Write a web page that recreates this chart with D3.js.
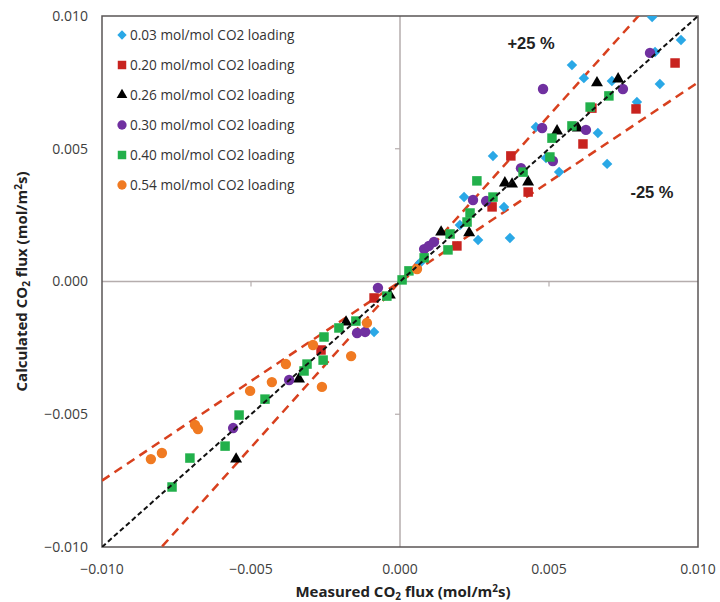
<!DOCTYPE html>
<html><head><meta charset="utf-8">
<script src="https://cdn.jsdelivr.net/npm/d3@7"></script>
<style>html,body{margin:0;padding:0;background:#fff;}</style>
</head><body>
<svg id="chart" width="720" height="602"></svg>
<script>
// values in units of 0.001 mol/m2s : [measured, calculated]
const series = ["0.03 mol/mol CO2 loading","0.20 mol/mol CO2 loading","0.26 mol/mol CO2 loading","0.30 mol/mol CO2 loading","0.40 mol/mol CO2 loading","0.54 mol/mol CO2 loading"];
const s003 = [[8.46,9.96],[9.43,9.10],[8.56,8.64],[5.77,8.15],[6.17,7.66],[7.11,7.55],[8.72,7.44],[7.95,6.76],[4.56,5.82],[6.64,5.59],[3.12,4.73],[4.90,4.65],[6.95,4.43],[5.34,4.12],[2.15,3.18],[3.49,2.81],[2.01,2.13],[2.62,1.56],[3.69,1.64],[0.67,0.70],[-0.87,-1.90]];
const s020 = [[9.23,8.23],[7.92,6.50],[6.44,6.53],[6.14,5.18],[3.72,4.73],[4.30,3.37],[3.09,2.81],[1.91,1.34],[-0.87,-0.62],[-2.65,-2.58]];
const s026 = [[6.61,7.48],[7.32,7.63],[5.27,5.67],[5.97,5.78],[3.52,3.71],[3.76,3.67],[4.30,3.75],[1.38,1.86],[2.32,1.83],[-0.34,-0.51],[-1.81,-1.53],[-3.39,-3.67],[-5.50,-6.69]];
const s030 = [[8.39,8.61],[4.80,7.25],[7.48,7.25],[4.77,5.78],[6.24,5.71],[4.06,4.27],[5.13,4.54],[2.45,3.07],[2.89,3.03],[0.81,1.22],[0.97,1.34],[1.14,1.49],[-0.74,-0.24],[-1.44,-1.94],[-1.17,-1.90],[-3.72,-3.71],[-5.60,-5.52]];
const s040 = [[7.01,6.99],[6.38,6.57],[5.77,5.86],[5.10,5.40],[5.03,4.69],[4.13,4.12],[2.58,3.79],[3.12,3.18],[2.35,2.58],[2.25,2.24],[1.68,1.79],[1.61,1.19],[0.81,0.89],[0.30,0.40],[0.07,0.06],[-0.44,-0.55],[-1.48,-1.49],[-2.05,-1.75],[-2.55,-2.09],[-2.58,-2.96],[-3.12,-3.11],[-3.22,-3.37],[-4.53,-4.43],[-5.40,-5.03],[-5.87,-6.20],[-7.05,-6.65],[-7.65,-7.74]];
const s054 = [[0.57,0.47],[-1.11,-1.56],[-2.92,-2.39],[-1.64,-2.81],[-3.83,-3.11],[-2.62,-3.97],[-4.30,-3.79],[-5.03,-4.12],[-6.88,-5.40],[-6.78,-5.56],[-7.99,-6.46],[-8.36,-6.69]];
const allSeries = [s003, s020, s026, s030, s040, s054];
const tickValues = [-0.010, -0.005, 0.000, 0.005, 0.010];
const bandFactors = [1.25, 0.75];
const bandLabels = ["+25 %", "-25 %"];

const colors = ["#2aa8e6","#c8231f","#000000","#7030a0","#22b04b","#f07a22"];
const symbols = [d3.symbolDiamond2, d3.symbolSquare, d3.symbolTriangle, d3.symbolCircle, d3.symbolSquare, d3.symbolCircle];
const sizes = [70, 90, 62, 85, 90, 85];

const svg = d3.select("#chart");
const L = 102, R = 698, T = 16, B = 547;
const x = d3.scaleLinear().domain([-0.01, 0.01]).range([L, R]);
const y = d3.scaleLinear().domain([-0.01, 0.01]).range([B, T]);

// zero lines
svg.append("line").attr("x1", L).attr("x2", R).attr("y1", y(0)).attr("y2", y(0)).attr("stroke", "#b5adad").attr("stroke-width", 1.5);
svg.append("line").attr("x1", x(0)).attr("x2", x(0)).attr("y1", T).attr("y2", B).attr("stroke", "#b5adad").attr("stroke-width", 1.5);
[-0.005, 0.005].forEach(v => {
  svg.append("line").attr("x1", x(v)).attr("x2", x(v)).attr("y1", y(0)).attr("y2", y(0) + 5).attr("stroke", "#b5adad").attr("stroke-width", 1.2);
  svg.append("line").attr("x1", x(0) - 5).attr("x2", x(0)).attr("y1", y(v)).attr("y2", y(v)).attr("stroke", "#b5adad").attr("stroke-width", 1.2);
});
// frame
svg.append("rect").attr("x", L).attr("y", T).attr("width", R - L).attr("height", B - T).attr("fill", "none").attr("stroke", "#5a5555").attr("stroke-width", 1.5);

// tick labels
svg.selectAll(".ylab").data(tickValues).join("text")
  .attr("x", 88).attr("y", d => y(d)).attr("dy", "0.35em").attr("text-anchor", "end")
  .attr("font-family", "Open Sans").attr("font-size", 14).attr("fill", "#404040").text(d => d3.format(".3f")(d));
svg.selectAll(".xlab").data(tickValues).join("text")
  .attr("x", d => x(d)).attr("y", 574).attr("text-anchor", "middle")
  .attr("font-family", "Open Sans").attr("font-size", 14).attr("fill", "#404040").text(d => d3.format(".3f")(d));

// axis titles
function title(sel, a, b) {
  sel.append("tspan").text(a);
  sel.append("tspan").attr("font-size", 10).attr("dy", 3).text("2");
  sel.append("tspan").attr("dy", -3).text(" flux (mol/m");
  sel.append("tspan").attr("font-size", 10).attr("dy", -5).text("2");
  sel.append("tspan").attr("dy", 5).text("s)");
}
const xt = svg.append("text").attr("x", x(0) + 3).attr("y", 597).attr("text-anchor", "middle")
  .attr("font-family", "Open Sans").attr("font-weight", "bold").attr("font-size", 15).attr("fill", "#222");
title(xt, "Measured CO");
const yt = svg.append("text").attr("transform", `translate(27,${y(0)}) rotate(-90)`).attr("text-anchor", "middle")
  .attr("font-family", "Open Sans").attr("font-weight", "bold").attr("font-size", 15).attr("fill", "#222");
title(yt, "Calculated CO");

// clip
svg.append("clipPath").attr("id", "clip").append("rect").attr("x", L).attr("y", T).attr("width", R - L).attr("height", B - T);
const plot = svg.append("g").attr("clip-path", "url(#clip)");

// band lines
bandFactors.forEach(f => {
  plot.append("line").attr("x1", x(-0.01)).attr("y1", y(-0.01 * f)).attr("x2", x(0.01)).attr("y2", y(0.01 * f))
    .attr("stroke", "#d8401e").attr("stroke-width", 2.5).attr("stroke-dasharray", "9,6");
});

// points
allSeries.forEach((data, i) => {
  plot.selectAll(".p" + i).data(data).join("path")
    .attr("transform", d => `translate(${x(d[0] / 1000)},${y(d[1] / 1000)})`)
    .attr("d", d3.symbol().type(symbols[i]).size(sizes[i]))
    .attr("fill", colors[i]);
});

// 1:1 line
plot.append("line").attr("x1", x(-0.01)).attr("y1", y(-0.01)).attr("x2", x(0.01)).attr("y2", y(0.01))
  .attr("stroke", "#111").attr("stroke-width", 2).attr("stroke-dasharray", "5,3");

// band labels
svg.append("text").attr("x", 531).attr("y", 49).attr("text-anchor", "middle").attr("font-family", "Liberation Sans")
  .attr("font-weight", "bold").attr("font-size", 16.5).attr("fill", "#222").text(bandLabels[0]);
svg.append("text").attr("x", 652).attr("y", 198).attr("text-anchor", "middle").attr("font-family", "Liberation Sans")
  .attr("font-weight", "bold").attr("font-size", 16.5).attr("fill", "#222").text(bandLabels[1]);

// legend
const lg = svg.append("g");
series.forEach((name, i) => {
  const yy = 35 + i * 30;
  lg.append("path").attr("transform", `translate(122,${yy})`).attr("d", d3.symbol().type(symbols[i]).size(sizes[i] * 0.8)).attr("fill", colors[i]);
  lg.append("text").attr("x", 130).attr("y", yy).attr("dy", "0.35em").attr("font-family", "Open Sans")
    .attr("font-size", 13.6).attr("fill", "#333").text(name);
});
</script>
</body></html>
